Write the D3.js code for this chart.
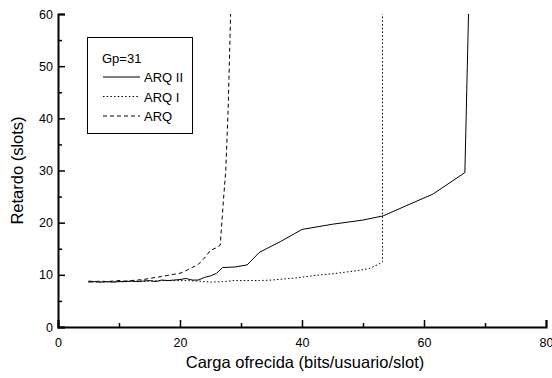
<!DOCTYPE html>
<html><head><meta charset="utf-8">
<script src="https://cdn.jsdelivr.net/npm/d3@7"></script>
<style>body{margin:0;background:#fff}svg{display:block}text{font-family:"Liberation Sans",Arial,sans-serif}</style>
</head><body><svg id="c" width="552" height="378"></svg>
<script>
const xTicks = [0, 20, 40, 60, 80];
const yTicks = [0, 10, 20, 30, 40, 50, 60];
const seriesNames = ["ARQ II", "ARQ I", "ARQ"];
const legendTitle = "Gp=31";
const arq2X = [5,6,7,8,9,10,11,12,13,14,15,16,17,18,19,20,21,22,23,24,25,26,27,29,31,33,36.5,40,45,50,53.3,57,61.5,66.7,67.3];
const arq2Y = [8.6,8.7,8.6,8.7,8.6,8.7,8.7,8.8,8.7,8.8,8.9,8.7,9.0,8.9,9.0,9.1,9.3,9.0,9.0,9.5,9.8,10.3,11.4,11.5,11.9,14.3,16.4,18.7,19.7,20.5,21.3,23.2,25.5,29.6,60];
const arq1X = [5,7,9,11,13,15,17,19,21,23,25,27,29,31,33,35,37,39,41,43,45,47,49,51,52.5,53.2,53.2];
const arq1Y = [8.7,8.6,8.7,8.7,8.8,8.8,8.9,8.9,8.9,8.8,8.6,8.7,8.9,8.9,8.9,9.0,9.2,9.4,9.7,10.0,10.2,10.5,10.8,11.2,12.0,12.5,60];
const arqX = [5,6,7,8,9,10,11,12,13,14,15,16,17,18,19,20,21,22,23,24,25,26,26.6,27.1,27.5,27.9,28.3];
const arqY = [8.8,8.7,8.8,8.7,8.8,8.9,8.8,8.9,9.0,9.1,9.3,9.5,9.7,9.9,10.1,10.3,10.8,11.4,12.0,13.2,14.7,15.2,15.7,24,30,42,60];

const svg = d3.select("#c");
const m = {l:58, t:14, r:6, b:51};
const W = 552, H = 378;
const x = d3.scaleLinear().domain([0,80]).range([m.l, W - m.r]);
const y = d3.scaleLinear().domain([0,60]).range([H - m.b, m.t]);

// minor ticks
const gx = svg.append("g").attr("transform", `translate(0,${y(0)})`);
gx.call(d3.axisBottom(x).tickValues(d3.range(10,80,20)).tickSize(-4).tickFormat(""));
gx.call(g=>g.selectAll(".domain").remove());
const gx2 = svg.append("g").attr("transform", `translate(0,${y(0)})`)
  .call(d3.axisBottom(x).tickValues(xTicks).tickSize(-7).tickPadding(11).tickFormat(d3.format("d")));
const gy = svg.append("g").attr("transform", `translate(${x(0)},0)`);
gy.call(d3.axisLeft(y).tickValues(d3.range(5,60,10)).tickSize(-4).tickFormat(""));
gy.call(g=>g.selectAll(".domain").remove());
const gy2 = svg.append("g").attr("transform", `translate(${x(0)},0)`)
  .call(d3.axisLeft(y).tickValues(yTicks).tickSize(-7).tickPadding(5).tickFormat(d3.format("d")));
svg.selectAll(".domain").attr("stroke","#000").attr("stroke-width",2);
svg.selectAll(".tick line").attr("stroke","#000").attr("stroke-width",1.5);
svg.selectAll(".tick text").attr("font-size","12.5px").attr("fill","#000").attr("font-family","Liberation Sans, Arial, sans-serif");

const dashes = ["none", "1.5,2.2", "4,3"];
const data = [d3.zip(arq2X, arq2Y), d3.zip(arq1X, arq1Y), d3.zip(arqX, arqY)];
const line = d3.line().x(d=>x(d[0])).y(d=>y(d[1]));
data.forEach((d,i)=>{
  svg.append("path").attr("d", line(d)).attr("fill","none").attr("stroke","#000")
    .attr("stroke-width",1).attr("stroke-dasharray", dashes[i]);
});

// legend
const lg = svg.append("g");
lg.append("rect").attr("x",87.5).attr("y",37.5).attr("width",105).attr("height",96)
  .attr("fill","#fff").attr("stroke","#000").attr("stroke-width",1);
lg.append("text").attr("x",102).attr("y",63).attr("font-size","13px").text(legendTitle);
seriesNames.forEach((n,i)=>{
  const yy = 77 + i*19.5;
  lg.append("line").attr("x1",103).attr("x2",140).attr("y1",yy).attr("y2",yy)
    .attr("stroke","#000").attr("stroke-width",1).attr("stroke-dasharray",dashes[i]);
  lg.append("text").attr("x",144).attr("y",yy+5).attr("font-size","13px").text(n);
});

svg.append("text").attr("x", 305).attr("y", 368).attr("text-anchor","middle")
  .attr("font-size","16.5px").text("Carga ofrecida (bits/usuario/slot)");
svg.append("text").attr("transform", `translate(23,${(y(0)+y(60))/2}) rotate(-90)`)
  .attr("text-anchor","middle").attr("font-size","16.5px").text("Retardo (slots)");
</script></body></html>
